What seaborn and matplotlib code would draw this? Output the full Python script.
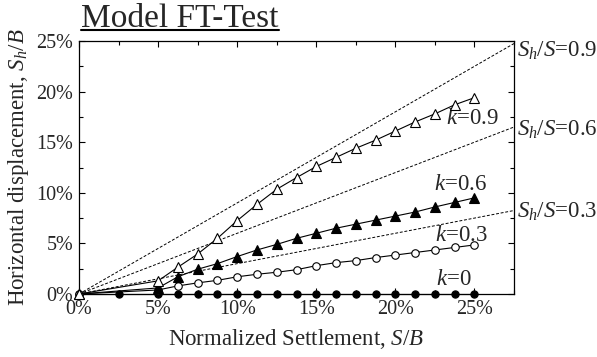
import numpy as np
import pandas as pd
import matplotlib
matplotlib.use("Agg")
import matplotlib.pyplot as plt
from matplotlib.lines import Line2D
from matplotlib.ticker import MultipleLocator
import seaborn as sns

# ---- data (percent) ----
settle = [0, 5, 6.25, 7.5, 8.75, 10, 11.25, 12.5, 13.75, 15, 16.25,
          17.5, 18.75, 20, 21.25, 22.5, 23.75, 25]
settle_k0 = [0, 2.5, 5, 6.25, 7.5, 8.75, 10, 11.25, 12.5, 13.75, 15, 16.25,
             17.5, 18.75, 20, 21.25, 22.5, 23.75, 25]
k00 = [0] * len(settle_k0)
k03 = [0, 0.4, 0.8, 1.1, 1.35, 1.7, 1.95, 2.15, 2.4, 2.8, 3.1, 3.3,
       3.6, 3.85, 4.1, 4.35, 4.6, 4.85]
k06 = [0, 0.6, 1.7, 2.45, 3.0, 3.7, 4.35, 4.9, 5.5, 6.0, 6.5, 6.9,
       7.3, 7.7, 8.1, 8.6, 9.05, 9.5]
k09 = [0, 1.3, 2.65, 3.95, 5.5, 7.25, 8.85, 10.35, 11.5, 12.6, 13.5, 14.4,
       15.2, 16.1, 17.0, 17.8, 18.7, 19.4]

ratios = [0.3, 0.6, 0.9]
ratio_label_y = [8.1, 16.2, 24.0]

x_ticks = [0, 5, 10, 15, 20, 25]
y_ticks = [0, 5, 10, 15, 20, 25]
x_max = 27.5
y_max = 25

sns.set_style("ticks")
plt.rcParams["font.family"] = ["Liberation Serif", "DejaVu Serif"]
plt.rcParams["mathtext.fontset"] = "custom"
plt.rcParams["mathtext.rm"] = "Liberation Serif"
plt.rcParams["mathtext.it"] = "Liberation Serif:italic"
plt.rcParams["mathtext.bf"] = "Liberation Serif:bold"

fig = plt.figure(figsize=(5.97, 3.57), dpi=100)
ax = fig.add_axes([79 / 597, 1 - 294 / 357, (514 - 79) / 597, (294 - 41) / 357])

# reference lines S_h/S = const
xr = np.array([0, x_max])
for r in ratios:
    ax.plot(xr, r * xr, color="black", lw=0.7, linestyle=(0, (3, 1.8)), zorder=1)

series = [
    (settle_k0, k00, "o", "black", 5.2),
    (settle, k03, "o", "white", 5.4),
    (settle, k06, "^", "black", 6.6),
    (settle, k09, "^", "white", 7.2),
]
for i, (xs, ys, mk, fc, ms) in enumerate(series):
    df = pd.DataFrame({"x": xs, "y": ys})
    sns.lineplot(data=df, x="x", y="y", ax=ax, color="black", lw=0.8,
                 marker=mk, markersize=ms, markerfacecolor=fc,
                 mec="black", mew=0.8, zorder=3 + i, clip_on=False)

ax.set_xlim(0, x_max)
ax.set_ylim(0, y_max)
ax.set_xticks(x_ticks)
ax.set_yticks(y_ticks)
ax.set_xticklabels([f"{t}%" for t in x_ticks])
ax.set_yticklabels([f"{t}%" for t in y_ticks])
ax.xaxis.set_minor_locator(MultipleLocator(2.5))
ax.yaxis.set_minor_locator(MultipleLocator(2.5))
ax.tick_params(which="both", direction="in", top=True, right=True,
               color="black", width=0.8)
ax.tick_params(which="major", length=4, labelsize=14.5, pad=4)
ax.tick_params(which="minor", length=3)
for s in ax.spines.values():
    s.set_color("black")
    s.set_linewidth(0.9)

ax.set_xlabel("Normalized Settlement, $S/B$", fontsize=16.5, labelpad=6)
ax.set_ylabel("Horizontal displacement, $S_h/B$", fontsize=16.5, labelpad=4)

# series labels
ax.text(23.2, 17.3, "$k$=0.9", fontsize=16.5, va="center", ha="left")
ax.text(22.45, 10.8, "$k$=0.6", fontsize=16.5, va="center", ha="left")
ax.text(22.5, 5.8, "$k$=0.3", fontsize=16.5, va="center", ha="left")
ax.text(22.6, 1.4, "$k$=0", fontsize=16.5, va="center", ha="left")

# ratio labels outside the right spine
for r, yl in zip(ratios, ratio_label_y):
    ax.text(x_max + 0.2, yl, f"$S_h/S$={r}", fontsize=16.5, va="center",
            ha="left", clip_on=False)

# underlined title
title = fig.text(81 / 597, 1 - 27 / 357, "Model FT-Test", fontsize=24,
                 ha="left", va="baseline")
fig.canvas.draw()
bb = title.get_window_extent(renderer=fig.canvas.get_renderer())
uy = (357 - 29.5) / 357
fig.add_artist(Line2D([bb.x0 / fig.bbox.width, bb.x1 / fig.bbox.width], [uy, uy],
                      transform=fig.transFigure, color="black", lw=1.5))

fig.savefig("out.png", dpi=100)
